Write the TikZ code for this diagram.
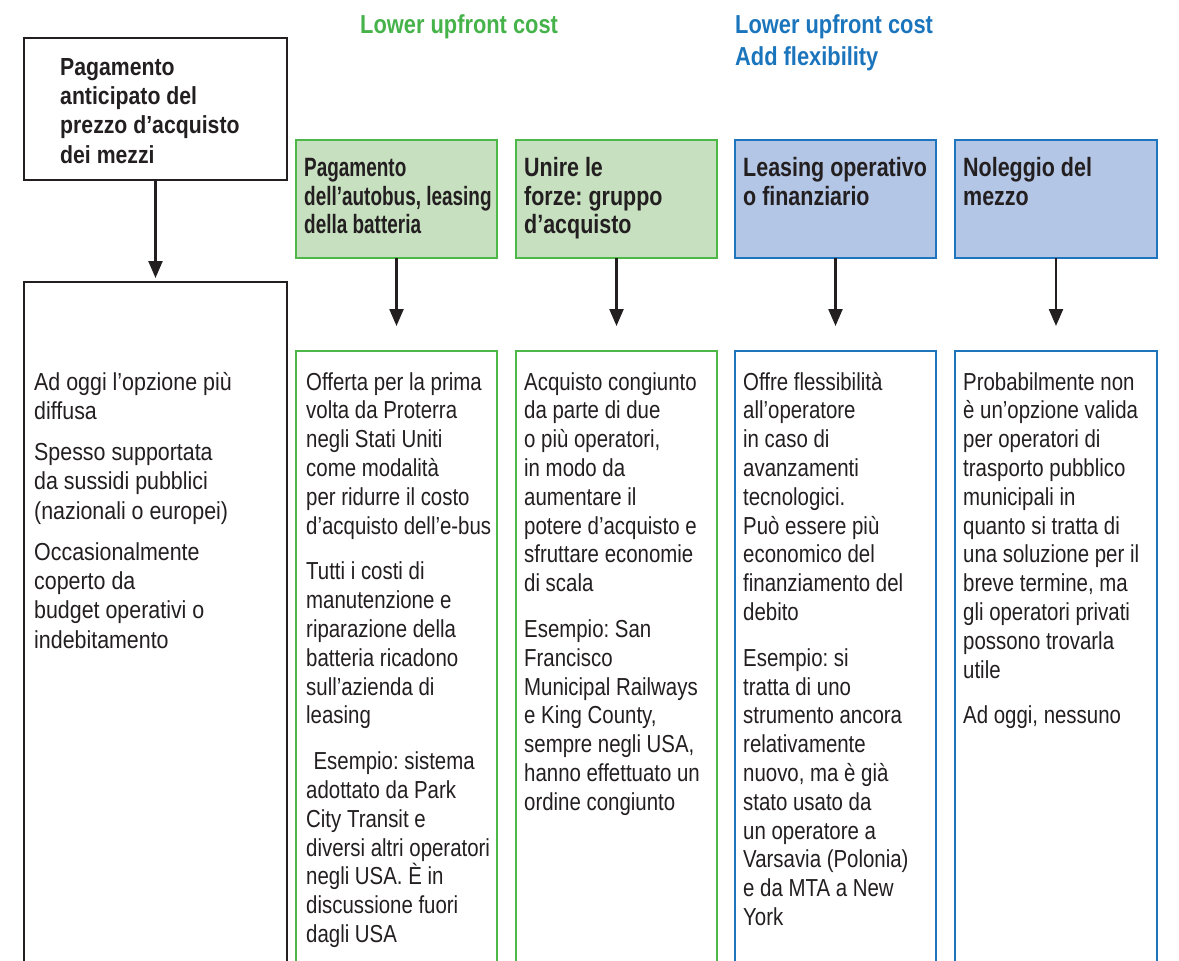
\documentclass[tikz,border=0pt]{standalone}
\usepackage{fontspec}
\setmainfont{Liberation Sans}[FakeStretch=0.83]
\newfontfamily\leftfont{Liberation Sans}[FakeStretch=0.87]
\newfontfamily\hdfont{Liberation Sans}[FakeStretch=0.81]
\newfontfamily\hdnarrow{Liberation Sans}[FakeStretch=0.715]
\newfontfamily\tlfont{Liberation Sans}[FakeStretch=0.86]
\newfontfamily\lblfont{Liberation Sans}[FakeStretch=0.84]
\usetikzlibrary{arrows.meta,calc}
\definecolor{txt}{RGB}{35,31,32}
\definecolor{gline}{RGB}{77,184,72}
\definecolor{gfill}{RGB}{199,224,192}
\definecolor{bline}{RGB}{30,117,190}
\definecolor{bfill}{RGB}{180,198,230}
\definecolor{glabel}{RGB}{70,178,74}
\definecolor{blabel}{RGB}{27,117,188}
\tikzset{
 boxbase/.style={draw, anchor=north west, inner sep=0pt, outer sep=0pt},
 blackbox/.style={boxbase, draw=txt, line width=2.5pt},
 ghead/.style={boxbase, draw=gline, fill=gfill, line width=2.6pt, minimum width=201pt, minimum height=118pt},
 bhead/.style={boxbase, draw=bline, fill=bfill, line width=2.6pt, minimum width=201pt, minimum height=118pt},
 gbody/.style={boxbase, draw=gline, line width=2pt, minimum width=201pt, minimum height=700pt},
 bbody/.style={boxbase, draw=bline, line width=2pt, minimum width=201pt, minimum height=700pt},
 toplabel/.style={anchor=base west, align=left, inner sep=0pt, font=\fontsize{26}{32}\lblfont\bfseries\frenchspacing},
 headtxt/.style={anchor=base west, align=left, inner sep=0pt, text=txt, font=\fontsize{26.5}{28.3}\hdfont\bfseries\frenchspacing},
 bodytxt/.style={anchor=base west, align=left, inner sep=0pt, text=txt, font=\fontsize{24.6}{28.8}\selectfont\frenchspacing},
 arr/.style={draw=txt, line width=2.3pt, -{Triangle[width=14pt,length=17pt]}},
}
\begin{document}
\begin{tikzpicture}[x=1pt,y=-1pt]
\useasboundingbox (0,0) rectangle (1179,961);
\clip (0,0) rectangle (1179,961);

% top labels (anchor = baseline of last line)
\node[toplabel, text=glabel] (lg) at (360,33) {Lower upfront cost};
\node[toplabel, text=blabel] (lb) at (735,65) {Lower upfront cost\\Add flexibility};

% top-left box
\node[blackbox, minimum width=263pt, minimum height=142pt] (top) at (24,38) {};
\node[headtxt, font=\fontsize{24.7}{29.3}\tlfont\bfseries] (toptxt) at (60,163) {Pagamento\\anticipato del\\prezzo d’acquisto\\dei mezzi};

% left body box
\node[blackbox, line width=2.3pt, minimum width=263pt, minimum height=720pt] (left) at (24,282) {};
\node[bodytxt, font=\fontsize{24.6}{29.3}\leftfont\frenchspacing] (lefttxt) at (34,648) {Ad oggi l’opzione più\\diffusa\\[11.7pt]Spesso supportata\\da sussidi pubblici\\(nazionali o europei)\\[11.7pt]Occasionalmente\\coperto da\\budget operativi o\\indebitamento};

% header boxes
\node[ghead] (h1) at (296,140) {};
\node[ghead] (h2) at (516,140) {};
\node[bhead] (h3) at (735,140) {};
\node[bhead, minimum width=202pt] (h4) at (955,140) {};
\node[headtxt, font=\fontsize{26.5}{28.3}\hdnarrow\bfseries] (h1t) at (304,233.3) {Pagamento\\dell’autobus, leasing\\della batteria};
\node[headtxt] (h2t) at (524,233.3) {Unire le\\forze: gruppo\\d’acquisto};
\node[headtxt] (h3t) at (743,205) {Leasing operativo\\o finanziario};
\node[headtxt] (h4t) at (963,205) {Noleggio del\\mezzo};

% body boxes
\node[gbody] (b1) at (296,351) {};
\node[gbody] (b2) at (516,351) {};
\node[bbody] (b3) at (735,351) {};
\node[bbody, minimum width=202pt] (b4) at (955,351) {};

\node[bodytxt] (b1t) at (306,942.4) {Offerta per la prima\\volta da Proterra\\negli Stati Uniti\\come modalità\\per ridurre il costo\\d’acquisto dell’e-bus\\[17pt]Tutti i costi di\\manutenzione e\\riparazione della\\batteria ricadono\\sull’azienda di\\leasing\\[17pt]\hspace*{.3em}Esempio: sistema\\adottato da Park\\City Transit e\\diversi altri operatori\\negli USA. È in\\discussione fuori\\dagli USA};
\node[bodytxt] (b2t) at (524,810.2) {Acquisto congiunto\\da parte di due\\o più operatori,\\in modo da\\aumentare il\\potere d’acquisto e\\sfruttare economie\\di scala\\[17pt]Esempio: San\\Francisco\\Municipal Railways\\e King County,\\sempre negli USA,\\hanno effettuato un\\ordine congiunto};
\node[bodytxt] (b3t) at (743,925.4) {Offre flessibilità\\all’operatore\\in caso di\\avanzamenti\\tecnologici.\\Può essere più\\economico del\\finanziamento del\\debito\\[17pt]Esempio: si\\tratta di uno\\strumento ancora\\relativamente\\nuovo, ma è già\\stato usato da\\un operatore a\\Varsavia (Polonia)\\e da MTA a New\\York};
\node[bodytxt] (b4t) at (963,723.8) {Probabilmente non\\è un’opzione valida\\per operatori di\\trasporto pubblico\\municipali in\\quanto si tratta di\\una soluzione per il\\breve termine, ma\\gli operatori privati\\possono trovarla\\utile\\[17pt]Ad oggi, nessuno};

% arrows
\draw[arr, shorten >=4pt] (top.south) -- (left.north);
\draw[arr, shorten >=25pt] (h1.south) -- (b1.north);
\draw[arr, shorten >=25pt] (h2.south) -- (b2.north);
\draw[arr, shorten >=25pt] (h3.south) -- (b3.north);
\draw[arr, shorten >=25pt] (h4.south) -- (b4.north);
\end{tikzpicture}
\end{document}
